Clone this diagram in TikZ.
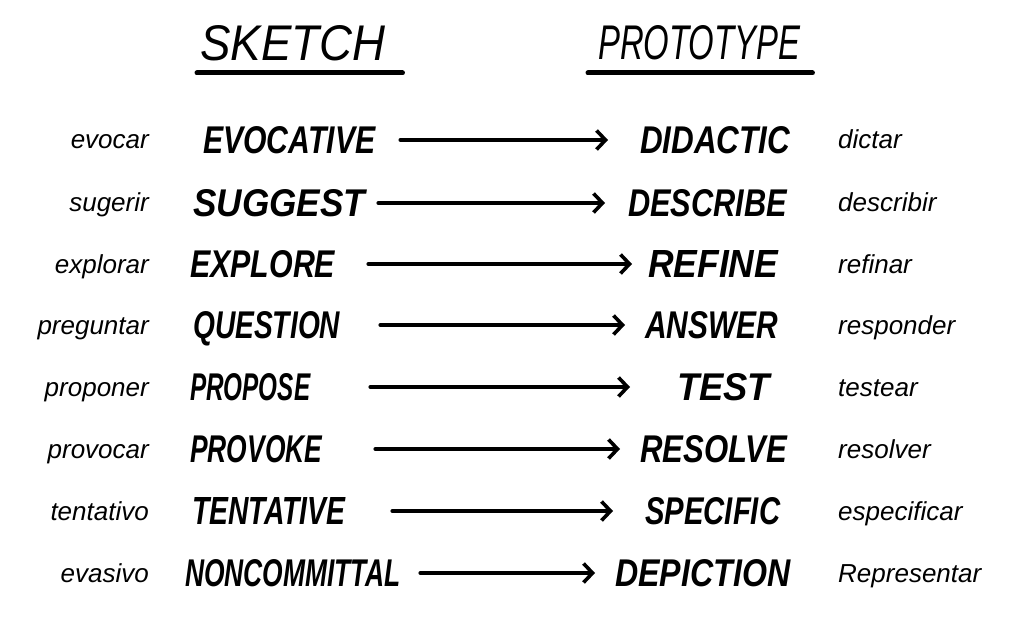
\documentclass[tikz,border=0pt]{standalone}
\usepackage{fontspec}
\usepackage{graphicx}
\setmainfont{Liberation Sans}
\usetikzlibrary{arrows.meta}
\newfontfamily\hwfont{Liberation Sans}
\newcommand{\hwb}[3]{\resizebox{#1pt}{#2pt}{\hwfont\bfseries\itshape #3}}
\newcommand{\hwt}[3]{\resizebox{#1pt}{#2pt}{\hwfont\itshape #3}}
\tikzset{
  es/.style={font=\fontsize{26}{30}\selectfont\itshape, inner sep=0pt},
  hw/.style={inner sep=0pt, anchor=base west},
  arr/.style={line width=4pt, -{Straight Barb[length=9pt,width=19pt,line width=3.6pt]}, line cap=round},
  uline/.style={line width=5pt, line cap=round},
}
\begin{document}
\begin{tikzpicture}[x=1pt,y=-1pt]
\useasboundingbox (0,0) rectangle (1024,617);
\fill[white] (0,0) rectangle (1024,617);
% titles
\node[hw] (tsk) at (200,61) {\hwt{185}{35}{SKETCH}};
\node[hw] (tpr) at (598,60) {\hwt{202}{34}{PROTOTYPE}};
\draw[uline] ([xshift=-3pt,yshift=-12pt]tsk.base west) -- ([xshift=17pt,yshift=-12pt]tsk.base east);
\draw[uline] ([xshift=-10pt,yshift=-13pt]tpr.base west) -- ([xshift=12pt,yshift=-13pt]tpr.base east);
\foreach \i/\y/\ls/\sw/\sx/\swid/\ga/\pw/\px/\pwid/\gb/\rs in {
 1/140/evocar/EVOCATIVE/203/172/25/DIDACTIC/640/150/-32/dictar,
 2/203/sugerir/SUGGEST/193/172/13/DESCRIBE/628/159/-23/describir,
 3/264/explorar/EXPLORE/190/145/33/REFINE/648/130/-16/refinar,
 4/325/preguntar/QUESTION/193/147/40/ANSWER/645/133/-20/responder,
 5/387/proponer/PROPOSE/190/120/60/TEST/677/93/-47/testear,
 6/449/provocar/PROVOKE/190/132/53/RESOLVE/640/147/-20/resolver,
 7/511/tentativo/TENTATIVE/192/153/47/SPECIFIC/645/135/-32/especificar,
 8/573/evasivo/NONCOMMITTAL/185/215/20/DEPICTION/615/175/-20/Representar}{
  \node[es, anchor=base east] (l\i) at (149,\y+9) {\ls};
  \node[hw] (s\i) at (\sx,\y+13.5) {\hwb{\swid}{27}{\sw}};
  \node[hw] (p\i) at (\px,\y+13.5) {\hwb{\pwid}{27}{\pw}};
  \node[es, anchor=base west] (r\i) at (838,\y+9) {\rs};
  \draw[arr] ([xshift=\ga pt,yshift=13.5pt]s\i.base east) -- ([xshift=\gb pt,yshift=13.5pt]p\i.base west);
}
\end{tikzpicture}
\end{document}
